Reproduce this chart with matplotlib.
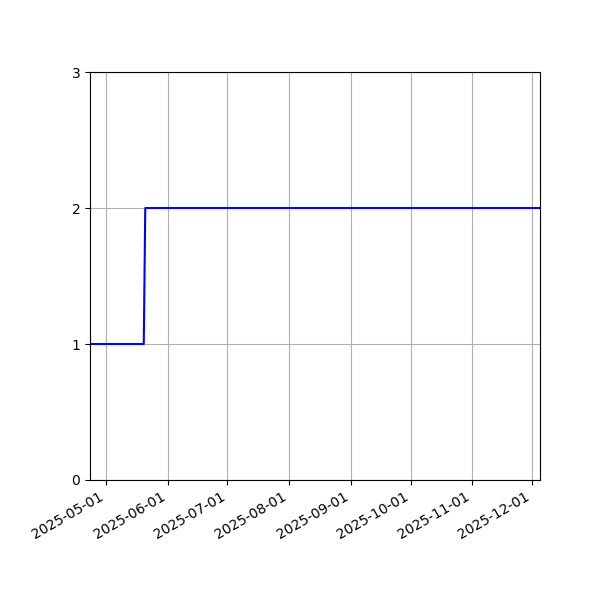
import numpy as np
import pandas as pd
import matplotlib
matplotlib.use("Agg")
import matplotlib.pyplot as plt
import matplotlib.dates as mdates

# step series
dates = pd.to_datetime(["2025-04-23 00:00", "2025-05-20 00:00", "2025-05-20 18:00", "2025-12-05 00:00"])
values = [1, 1, 2, 2]

fig, ax = plt.subplots(figsize=(6, 6), dpi=100)
ax.plot(dates, values, color='b')
ax.set_xlim(dates[0], dates[-1])
ax.set_ylim(0, 3)
ax.set_yticks([0, 1, 2, 3])
ax.xaxis.set_major_locator(mdates.MonthLocator())
ax.xaxis.set_major_formatter(mdates.DateFormatter('%Y-%m-%d'))
ax.grid(True)
fig.autofmt_xdate()
fig.subplots_adjust(left=0.15)
fig.savefig("out.png")
